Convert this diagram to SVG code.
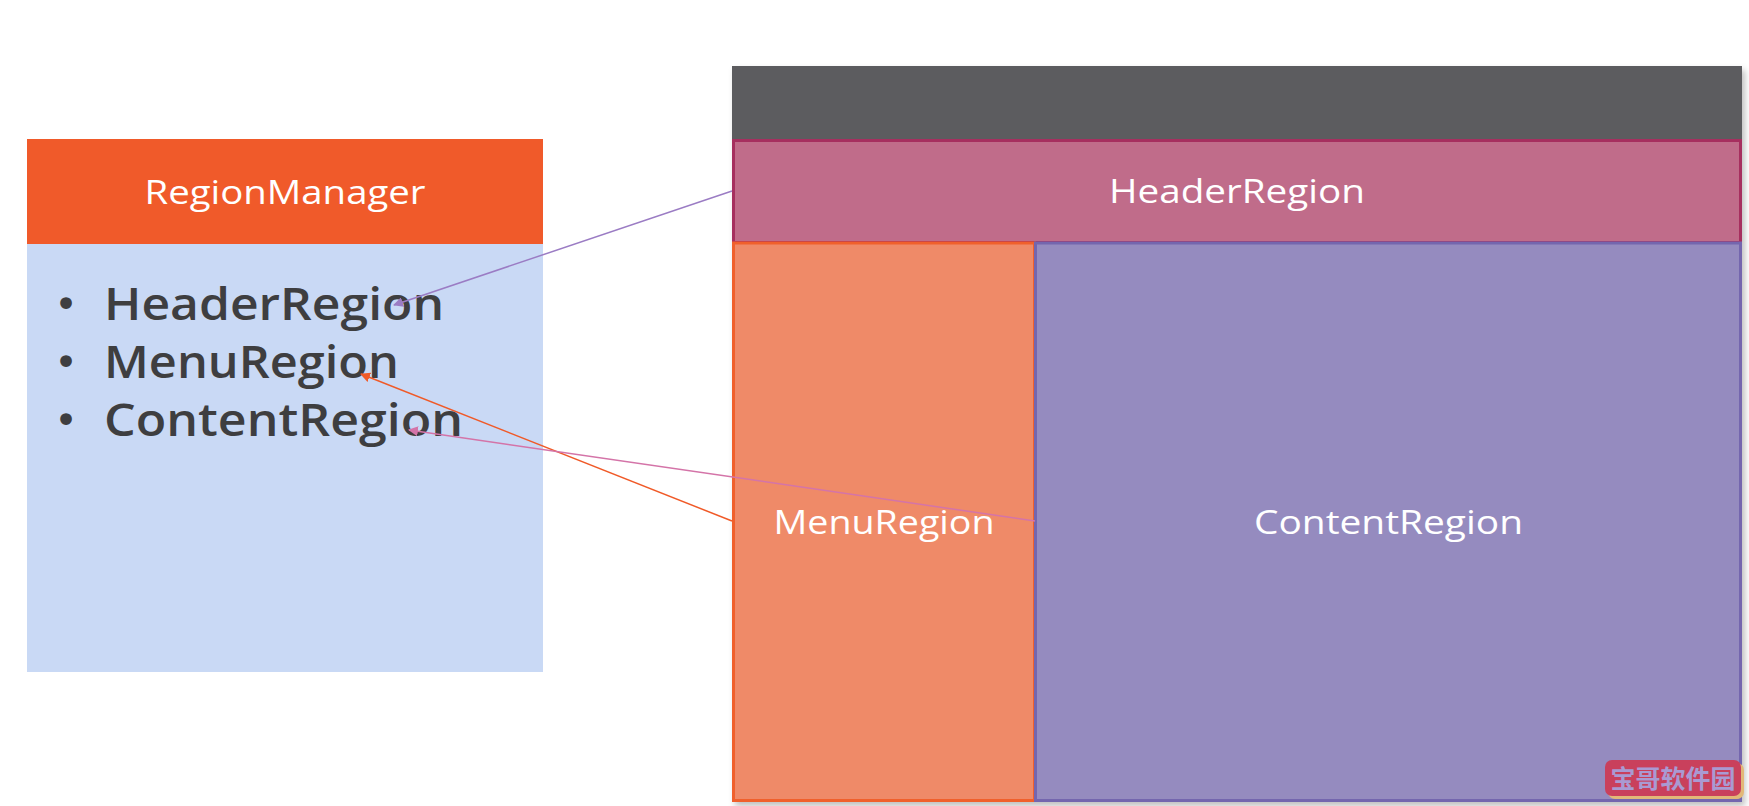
<svg xmlns="http://www.w3.org/2000/svg" width="1749" height="806" viewBox="0 0 1749 806">
  <style>
    .lbl { font-family: "Open Sans", "DejaVu Sans", sans-serif; font-weight: 500; fill: #ffffff; font-size: 33px; text-anchor: middle; }
    .item { font-family: "Open Sans", "DejaVu Sans", sans-serif; font-weight: 600; fill: #3e3e40; font-size: 45px; }
    .dot { font-family: "DejaVu Sans", sans-serif; fill: #3e3e40; font-size: 40px; text-anchor: middle; }
    .conn { fill: none; stroke-width: 1.5; }
  </style>
  <defs>
    <filter id="shadow" x="-5%" y="-5%" width="110%" height="110%">
      <feDropShadow dx="3" dy="4" stdDeviation="3" flood-color="#000000" flood-opacity="0.25"/>
    </filter>
    <marker id="arPurple" viewBox="0 0 10 10" refX="9" refY="5" markerWidth="10" markerHeight="10" markerUnits="userSpaceOnUse" orient="auto">
      <path d="M0,0 L10,5 L0,10 z" fill="#9b7cc4"/>
    </marker>
    <marker id="arOrange" viewBox="0 0 10 10" refX="9" refY="5" markerWidth="10" markerHeight="10" markerUnits="userSpaceOnUse" orient="auto">
      <path d="M0,0 L10,5 L0,10 z" fill="#f05a28"/>
    </marker>
    <marker id="arPink" viewBox="0 0 10 10" refX="9" refY="5" markerWidth="10" markerHeight="10" markerUnits="userSpaceOnUse" orient="auto">
      <path d="M0,0 L10,5 L0,10 z" fill="#d474a8"/>
    </marker>
  </defs>
  <rect x="0" y="0" width="1749" height="806" fill="#ffffff"/>

  <g id="region-manager">
    <rect x="27" y="139" width="516" height="105" fill="#f05a2a"/>
    <rect x="27" y="244" width="516" height="428" fill="#c9d9f5"/>
    <text class="lbl" x="285" y="204" font-size="31" textLength="281" lengthAdjust="spacingAndGlyphs">RegionManager</text>
    <text class="dot" x="66" y="318">•</text>
    <text class="item" x="104" y="320" textLength="340" lengthAdjust="spacingAndGlyphs">HeaderRegion</text>
    <text class="dot" x="66" y="376">•</text>
    <text class="item" x="104" y="378" textLength="295" lengthAdjust="spacingAndGlyphs">MenuRegion</text>
    <text class="dot" x="66" y="434">•</text>
    <text class="item" x="104" y="436" textLength="359" lengthAdjust="spacingAndGlyphs">ContentRegion</text>
  </g>

  <g id="shell" filter="url(#shadow)">
    <rect x="732" y="66" width="1010" height="736" fill="#5c5c5e"/>
  </g>

  <g id="header-region">
    <rect x="733.5" y="140.5" width="1007" height="102" fill="#c06c8a" stroke="#a62f5f" stroke-width="3"/>
    <text class="lbl" x="1237" y="203" textLength="256" lengthAdjust="spacingAndGlyphs">HeaderRegion</text>
  </g>

  <g id="menu-region">
    <rect x="733.5" y="243" width="301" height="557.5" fill="#ef8a68" stroke="#f0602c" stroke-width="3"/>
    <text class="lbl" x="884" y="534" textLength="221" lengthAdjust="spacingAndGlyphs">MenuRegion</text>
  </g>

  <g id="content-region">
    <rect x="1035.5" y="243" width="705" height="557.5" fill="#958bbf" stroke="#7466ae" stroke-width="3"/>
    <text class="lbl" x="1388.5" y="534" textLength="269" lengthAdjust="spacingAndGlyphs">ContentRegion</text>
  </g>

  <g id="connectors">
    <line class="conn" x1="732" y1="191" x2="394" y2="305" stroke="#9b7cc4" marker-end="url(#arPurple)"/>
    <line class="conn" x1="732" y1="521" x2="361" y2="374" stroke="#f05a28" marker-end="url(#arOrange)"/>
    <line class="conn" x1="1035" y1="521" x2="409" y2="430" stroke="#d474a8" marker-end="url(#arPink)"/>
  </g>

  <g id="watermark">
    <rect x="1608" y="763" width="136" height="36" rx="7" fill="#e2b878"/>
    <rect x="1605" y="760" width="136" height="36" rx="7" fill="#c9405c"/>
    <text x="1673" y="788" text-anchor="middle" font-family="'Noto Sans CJK SC', sans-serif" font-weight="bold" font-size="25" fill="#a99ad2">宝哥软件园</text>
  </g>
</svg>
